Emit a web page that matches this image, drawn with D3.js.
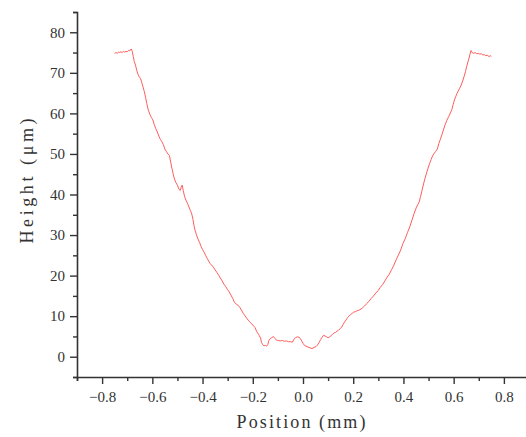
<!DOCTYPE html>
<html>
<head>
<meta charset="utf-8">
<script src="https://cdn.jsdelivr.net/npm/d3@7"></script>
<style>
    body { margin: 0; background: #fff; }
</style>
</head>
<body>
<div class="profile-canvas"></div>
<script>
// profile data (position in mm, height in um)
const positions = [
    -0.750, -0.745, -0.740, -0.735, -0.730, -0.725, -0.720, -0.715, -0.710, -0.705,
    -0.700, -0.695, -0.690, -0.684, -0.680, -0.676, -0.672, -0.667, -0.662, -0.657,
    -0.652, -0.647, -0.642, -0.637, -0.632, -0.627, -0.622, -0.616, -0.610, -0.604,
    -0.598, -0.592, -0.586, -0.580, -0.574, -0.568, -0.562, -0.556, -0.550, -0.544,
    -0.538, -0.532, -0.527, -0.522, -0.517, -0.512, -0.506, -0.500, -0.494, -0.489,
    -0.485, -0.481, -0.477, -0.472, -0.466, -0.460, -0.454, -0.448, -0.443, -0.438,
    -0.434, -0.430, -0.424, -0.418, -0.412, -0.406, -0.400, -0.394, -0.388, -0.382,
    -0.376, -0.370, -0.364, -0.357, -0.350, -0.343, -0.336, -0.329, -0.322, -0.315,
    -0.308, -0.301, -0.294, -0.287, -0.280, -0.273, -0.266, -0.259, -0.252, -0.245,
    -0.238, -0.231, -0.224, -0.218, -0.211, -0.204, -0.197, -0.191, -0.185, -0.179,
    -0.174, -0.169, -0.165, -0.161, -0.155, -0.150, -0.145, -0.140, -0.136, -0.130,
    -0.124, -0.118, -0.112, -0.105, -0.098, -0.090, -0.082, -0.074, -0.066, -0.058,
    -0.050, -0.042, -0.036, -0.030, -0.022, -0.015, -0.010, -0.005, 0.000, 0.006,
    0.012, 0.020, 0.028, 0.036, 0.044, 0.052, 0.058, 0.064, 0.070, 0.076,
    0.082, 0.088, 0.094, 0.100, 0.106, 0.112, 0.118, 0.124, 0.130, 0.136,
    0.142, 0.148, 0.154, 0.160, 0.166, 0.172, 0.178, 0.184, 0.190, 0.196,
    0.202, 0.208, 0.214, 0.220, 0.227, 0.236, 0.245, 0.254, 0.263, 0.272,
    0.281, 0.290, 0.299, 0.308, 0.317, 0.326, 0.335, 0.344, 0.353, 0.362,
    0.371, 0.380, 0.389, 0.398, 0.407, 0.416, 0.425, 0.434, 0.443, 0.452,
    0.458, 0.463, 0.468, 0.474, 0.480, 0.486, 0.492, 0.498, 0.504, 0.510,
    0.516, 0.522, 0.528, 0.535, 0.541, 0.547, 0.553, 0.559, 0.566, 0.573,
    0.580, 0.587, 0.593, 0.598, 0.603, 0.608, 0.613, 0.618, 0.624, 0.630,
    0.636, 0.642, 0.647, 0.652, 0.657, 0.661, 0.665, 0.669, 0.674, 0.680,
    0.686, 0.692, 0.698, 0.704, 0.710, 0.716, 0.722, 0.728, 0.734, 0.740,
    0.746, 0.750
];
const heights = [
    74.8, 75.0, 74.8, 75.1, 75.0, 75.2, 75.0, 75.3, 75.1, 75.3,
    75.2, 75.5, 75.4, 75.9, 75.3, 74.0, 72.8, 71.9, 70.6, 69.6,
    69.0, 68.6, 67.6, 66.5, 65.4, 64.0, 62.4, 60.8, 59.8, 59.0,
    58.4, 57.2, 56.2, 55.4, 54.4, 53.6, 53.0, 52.3, 51.2, 50.6,
    50.0, 49.6, 48.0, 46.5, 45.0, 43.8, 42.9, 42.3, 41.3, 41.0,
    41.8, 42.3, 41.0, 39.6, 38.6, 37.8, 36.9, 36.0, 35.2, 33.8,
    32.3, 31.2, 30.0, 29.0, 28.2, 27.2, 26.4, 25.8, 25.0, 24.3,
    23.6, 23.0, 22.6, 22.1, 21.4, 20.8, 20.1, 19.4, 18.7, 17.9,
    17.3, 16.6, 16.0, 15.2, 14.4, 13.4, 13.0, 12.7, 12.2, 11.5,
    10.7, 10.1, 9.5, 9.0, 8.5, 8.1, 7.6, 7.2, 6.3, 5.7,
    5.2, 4.6, 3.5, 3.0, 2.7, 2.8, 2.6, 3.0, 4.0, 4.5,
    4.7, 5.0, 4.5, 4.1, 4.0, 3.9, 4.0, 3.8, 3.9, 3.7,
    3.7, 3.6, 4.3, 4.7, 4.9, 4.8, 4.4, 3.9, 3.3, 2.8,
    2.6, 2.4, 2.2, 2.0, 2.3, 2.5, 2.9, 3.5, 4.2, 4.8,
    5.3, 5.1, 4.9, 4.7, 4.9, 5.2, 5.5, 5.9, 6.0, 6.3,
    6.6, 6.9, 7.3, 8.0, 8.6, 9.1, 9.7, 10.1, 10.4, 10.7,
    11.0, 11.1, 11.3, 11.4, 11.6, 12.0, 12.5, 13.1, 13.7, 14.4,
    15.0, 15.7, 16.3, 17.1, 17.8, 18.7, 19.6, 20.4, 21.5, 22.6,
    23.9, 25.1, 26.3, 27.9, 29.1, 30.6, 32.0, 33.7, 35.4, 36.9,
    37.6, 38.2, 39.5, 41.0, 42.6, 44.0, 45.3, 46.5, 47.6, 48.6,
    49.5, 50.1, 50.6, 51.2, 52.6, 53.6, 54.7, 55.9, 57.2, 58.3,
    59.2, 60.1, 61.0, 62.2, 63.3, 64.1, 64.9, 65.5, 66.2, 67.0,
    68.0, 69.2, 70.3, 71.6, 72.7, 73.6, 74.6, 75.5, 75.0, 74.8,
    75.0, 74.7, 74.8, 74.6, 74.7, 74.4, 74.5, 74.2, 74.4, 74.0,
    74.2, 74.1
];

// tick values
const xMajor = [-0.8, -0.6, -0.4, -0.2, 0.0, 0.2, 0.4, 0.6, 0.8];
const xMinor = [-0.9, -0.7, -0.5, -0.3, -0.1, 0.1, 0.3, 0.5, 0.7, 0.9];
const yMajor = [0, 10, 20, 30, 40, 50, 60, 70, 80];
const yMinor = [-5, 5, 15, 25, 35, 45, 55, 65, 75, 85];

const dims = { width: 526, height: 437 };
const plot = { left: 77, right: 529, top: 12, bottom: 377 };
const serif = '"Liberation Serif", "DejaVu Serif", serif';

const svg = d3.select('.profile-canvas')
    .append('svg')
    .attr('width', dims.width)
    .attr('height', dims.height);

const x = d3.scaleLinear().domain([-0.9, 0.9]).range([plot.left, plot.right]);
const y = d3.scaleLinear().domain([-5, 85]).range([plot.bottom, plot.top]);

//profile line
const points = positions.map((p, i) => ({ x: p, y: heights[i] }));

const line = d3.line()
    .x(d => x(d.x))
    .y(d => y(d.y));

svg.append('path')
    .datum(points)
    .attr('d', line)
    .attr('fill', 'none')
    .attr('stroke', '#ff5c5c')
    .attr('stroke-width', 1);

//axes, minor ticks first then major with labels
const fmt = d3.format('.1f');

const styleAxis = g => {
    g.attr('font-family', serif);
    g.select('.domain').attr('stroke', '#333').attr('stroke-width', 1.6);
    g.selectAll('.tick line').attr('stroke', '#333').attr('stroke-width', 1.4);
    g.selectAll('.tick text')
        .style('font-family', serif)
        .style('font-size', '15px')
        .attr('fill', '#333');
};

svg.append('g')
    .attr('transform', `translate(0, ${plot.bottom})`)
    .call(d3.axisBottom(x).tickValues(xMinor).tickSize(4).tickFormat(''))
    .call(styleAxis);

svg.append('g')
    .attr('transform', `translate(0, ${plot.bottom})`)
    .call(d3.axisBottom(x).tickValues(xMajor).tickSize(7).tickPadding(7).tickFormat(fmt))
    .call(styleAxis)
    .call(g => g.select('.domain').remove());

svg.append('g')
    .attr('transform', `translate(${plot.left}, 0)`)
    .call(d3.axisLeft(y).tickValues(yMinor).tickSize(4).tickFormat(''))
    .call(styleAxis);

svg.append('g')
    .attr('transform', `translate(${plot.left}, 0)`)
    .call(d3.axisLeft(y).tickValues(yMajor).tickSize(7).tickPadding(5).tickFormat(d3.format('d')))
    .call(styleAxis)
    .call(g => g.select('.domain').remove());

//axis titles
svg.append('text')
    .attr('x', 301)
    .attr('y', 428)
    .attr('text-anchor', 'middle')
    .attr('textLength', 129)
    .attr('lengthAdjust', 'spacing')
    .attr('fill', '#333')
    .style('font-family', serif)
    .style('font-size', '18px')
    .text('Position (mm)');

svg.append('text')
    .attr('transform', 'translate(33, 181) rotate(-90)')
    .attr('text-anchor', 'middle')
    .attr('textLength', 125)
    .attr('lengthAdjust', 'spacing')
    .attr('fill', '#333')
    .style('font-family', serif)
    .style('font-size', '18px')
    .text('Height (μm)');
</script>
</body>
</html>
